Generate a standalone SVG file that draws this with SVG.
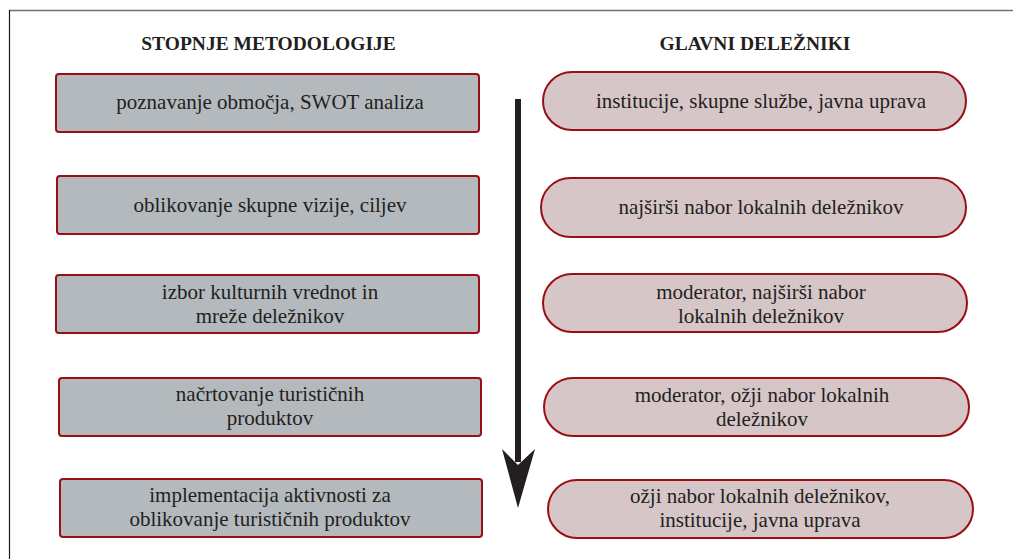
<svg xmlns="http://www.w3.org/2000/svg" width="1013" height="559" viewBox="0 0 1013 559">
<defs>
<style>
.box{fill:#b3b9bc;stroke:#9a0f14;stroke-width:2}
.pill{fill:#d6c6c7;stroke:#9a0f14;stroke-width:2}
.t{font-family:"Liberation Serif",serif;font-size:21px;fill:#231f20;text-anchor:middle}
.h{font-family:"Liberation Serif",serif;font-size:19.5px;font-weight:bold;fill:#231f20;text-anchor:middle}
</style>
</defs>
<rect width="1013" height="559" fill="#ffffff"/>
<g id="frame">
<line x1="9" y1="10.5" x2="1013" y2="10.5" stroke="#707070" stroke-width="1.6"/>
<line x1="9.5" y1="10" x2="9.5" y2="559" stroke="#1a1a1a" stroke-width="1.2"/>
</g>
<g id="titles">
<text class="h" x="268.5" y="50">STOPNJE METODOLOGIJE</text>
<text class="h" x="755" y="50">GLAVNI DELEŽNIKI</text>
</g>
<g id="step1"><rect class="box" x="56" y="74" width="423" height="58" rx="3"/><text class="t" x="270" y="109">poznavanje območja, SWOT analiza</text></g>
<g id="step2"><rect class="box" x="57" y="176" width="422" height="58" rx="3"/><text class="t" x="270" y="212">oblikovanje skupne vizije, ciljev</text></g>
<g id="step3"><rect class="box" x="56" y="275" width="423" height="58" rx="3"/><text class="t" x="270" y="299">izbor kulturnih vrednot in</text><text class="t" x="270" y="323">mreže deležnikov</text></g>
<g id="step4"><rect class="box" x="59" y="378" width="422" height="58" rx="3"/><text class="t" x="270" y="401">načrtovanje turističnih</text><text class="t" x="270" y="425">produktov</text></g>
<g id="step5"><rect class="box" x="60" y="479" width="422" height="58" rx="3"/><text class="t" x="270" y="502">implementacija aktivnosti za</text><text class="t" x="270" y="526">oblikovanje turističnih produktov</text></g>
<g id="actor1"><rect class="pill" x="543" y="72" width="423" height="58" rx="29"/><text class="t" x="761" y="108">institucije, skupne službe, javna uprava</text></g>
<g id="actor2"><rect class="pill" x="541" y="178" width="425" height="59" rx="29.5"/><text class="t" x="761" y="214">najširši nabor lokalnih deležnikov</text></g>
<g id="actor3"><rect class="pill" x="543" y="274" width="424" height="58" rx="29"/><text class="t" x="761" y="299">moderator, najširši nabor</text><text class="t" x="761" y="323">lokalnih deležnikov</text></g>
<g id="actor4"><rect class="pill" x="544" y="378" width="425" height="58" rx="29"/><text class="t" x="762" y="402">moderator, ožji nabor lokalnih</text><text class="t" x="762" y="426">deležnikov</text></g>
<g id="actor5"><rect class="pill" x="548" y="480" width="425" height="58" rx="29"/><text class="t" x="760" y="503">ožji nabor lokalnih deležnikov,</text><text class="t" x="760" y="527">institucije, javna uprava</text></g>
<g id="connectors">
<line x1="518" y1="99" x2="518" y2="462" stroke="#231f20" stroke-width="6"/>
<polygon points="502,449 518,465 535,449 518,508" fill="#231f20"/>
</g>
</svg>
